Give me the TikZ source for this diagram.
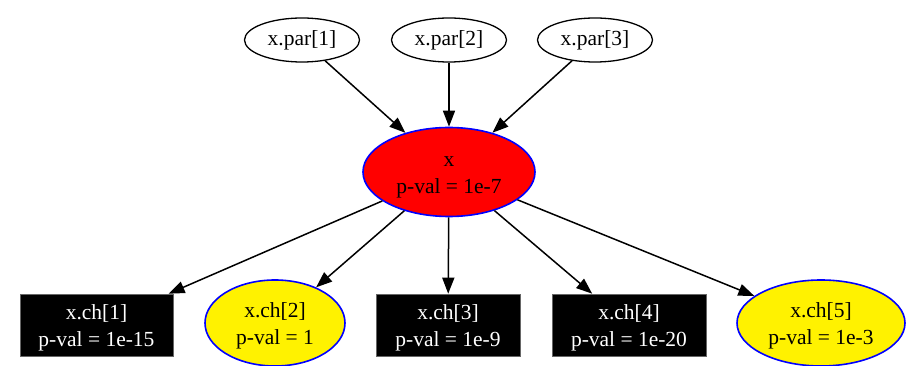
\documentclass[tikz,border=0pt]{standalone}
\usepackage{fontspec}
\setmainfont{Liberation Serif}
\usetikzlibrary{shapes.geometric,arrows.meta}
\newcommand\txup{\rule{0pt}{20pt}}
\begin{document}
\begin{tikzpicture}[x=1pt,y=-1pt,
  every node/.style={font=\fontsize{21.5}{27}\selectfont, align=center, inner sep=0pt},
  parnode/.style={ellipse, draw=black, line width=1.3pt, fill=white, minimum width=115pt, minimum height=44pt},
  rednode/.style={ellipse, draw=blue, line width=1.6pt, fill=red, minimum width=172pt, minimum height=89pt},
  yelnode/.style={ellipse, draw=blue, line width=1.6pt, fill=yellow},
  blknode/.style={rectangle, draw=black!60, line width=0.6pt, fill=black, text=white, minimum height=62pt},
  edge/.style={line width=1.5pt, -{Triangle[length=16pt,width=12pt]}}
]
\useasboundingbox (0,0) rectangle (906,366);
\node[parnode] (p1) at (302,40) {x.par[1]};
\node[parnode] (p2) at (449,40) {x.par[2]};
\node[parnode] (p3) at (595,40) {x.par[3]};
\node[rednode] (x) at (449,172) {\txup x\\p-val = 1e-7};
\node[blknode, minimum width=153pt] (c1) at (96.5,325) {\txup x.ch[1]\\p-val = 1e-15};
\node[yelnode, minimum width=140pt, minimum height=86pt] (c2) at (275,323) {\txup x.ch[2]\\p-val = 1};
\node[blknode, minimum width=144pt] (c3) at (448,325) {\txup x.ch[3]\\p-val = 1e-9};
\node[blknode, minimum width=154pt] (c4) at (629,325) {\txup x.ch[4]\\p-val = 1e-20};
\node[yelnode, minimum width=168pt, minimum height=86pt] (c5) at (821,323) {\txup x.ch[5]\\p-val = 1e-3};
\draw[edge] (p1) -- (x);
\draw[edge] (p2) -- (x);
\draw[edge] (p3) -- (x);
\draw[edge] (x) -- (c1);
\draw[edge] (x) -- (c2);
\draw[edge] (x) -- (c3);
\draw[edge] (x) -- (c4);
\draw[edge] (x) -- (c5);
\end{tikzpicture}
\end{document}
